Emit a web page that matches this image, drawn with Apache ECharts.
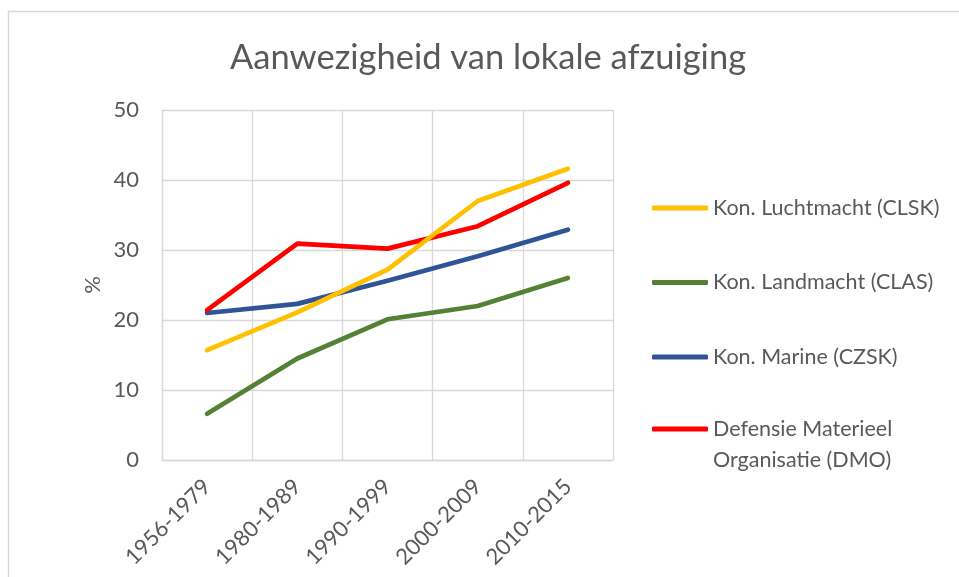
<!DOCTYPE html>
<html>
<head>
<meta charset="utf-8">
<script src="https://cdn.jsdelivr.net/npm/echarts@6/dist/echarts.min.js"></script>
<style>
html,body{margin:0;padding:0;background:#fff;}
#chart{width:959px;height:577px;}
</style>
</head>
<body>
<div id="chart"></div>
<script>
const categories = ['1956-1979', '1980-1989', '1990-1999', '2000-2009', '2010-2015'];
const clsk = [15.7, 21.1, 27.2, 37.0, 41.6];
const clas = [6.6, 14.5, 20.1, 22.0, 26.0];
const czsk = [21.0, 22.3, 25.6, 29.1, 32.9];
const dmo = [21.4, 30.9, 30.2, 33.4, 39.6];
const seriesNames = ['Kon. Luchtmacht (CLSK)', 'Kon. Landmacht (CLAS)', 'Kon. Marine (CZSK)', 'Defensie Materieel\nOrganisatie (DMO)'];
const colors = ['#FFC000', '#548235', '#2F5597', '#FF0000'];
const yTicks = {min: 0, max: 50, interval: 10};

const FONT = 'Lato';
const TXT = '#595959';
const GRID = '#D9D9D9';

const chart = echarts.init(document.getElementById('chart'), null, {renderer: 'canvas'});
const dataSets = [clsk, clas, czsk, dmo];

const legendBase = {
  orient: 'vertical',
  left: 652,
  padding: 0,
  itemWidth: 56, itemHeight: 5, itemGap: 43.5,
  icon: 'roundRect',
  formatter: function (name) {
    return name.indexOf('\n') >= 0 ? '\n' + name : name;
  },
  textStyle: {fontFamily: FONT, fontSize: 21.5, color: TXT, lineHeight: 31}
};

const option = {
  backgroundColor: '#fff',
  animation: false,
  title: {
    text: 'Aanwezigheid van lokale afzuiging',
    left: 483, top: 35, textAlign: 'center',
    textStyle: {fontFamily: FONT, fontSize: 34.5, fontWeight: 'normal', color: TXT}
  },
  graphic: [{
    type: 'rect', silent: true,
    shape: {x: 8.5, y: 11.5, width: 1000, height: 700},
    style: {fill: null, stroke: GRID, lineWidth: 1.5}
  }],
  grid: {left: 162, right: 346, top: 110, bottom: 117, containLabel: false},
  legend: [
    Object.assign({}, legendBase, {top: 192.5, data: seriesNames.slice(0, 3)}),
    Object.assign({}, legendBase, {top: 382.5, data: seriesNames.slice(3)})
  ],
  xAxis: {
    type: 'category',
    data: categories,
    boundaryGap: true,
    axisLine: {show: true, lineStyle: {color: GRID, width: 1.3}},
    axisTick: {show: false},
    splitLine: {show: true, lineStyle: {color: GRID, width: 1.3}},
    axisLabel: {rotate: 45, margin: 23, fontFamily: FONT, fontSize: 22, color: TXT, interval: 0}
  },
  yAxis: {
    type: 'value',
    min: yTicks.min, max: yTicks.max, interval: yTicks.interval,
    name: '%', nameLocation: 'middle', nameGap: 58,
    nameTextStyle: {fontFamily: FONT, fontSize: 22, color: TXT},
    axisLine: {show: true, lineStyle: {color: GRID, width: 1.3}},
    axisTick: {show: false},
    splitLine: {show: true, lineStyle: {color: GRID, width: 1.3}},
    axisLabel: {margin: 23, fontFamily: FONT, fontSize: 22, color: TXT}
  },
  series: dataSets.map((d, i) => ({
    name: seriesNames[i],
    type: 'line',
    data: d,
    symbol: 'none',
    showSymbol: false,
    lineStyle: {color: colors[i], width: 4.7, cap: 'round', join: 'round'},
    itemStyle: {color: colors[i]},
    z: 2
  }))
};
option.series[0].z = 3;
chart.setOption(option);
</script>
</body>
</html>
